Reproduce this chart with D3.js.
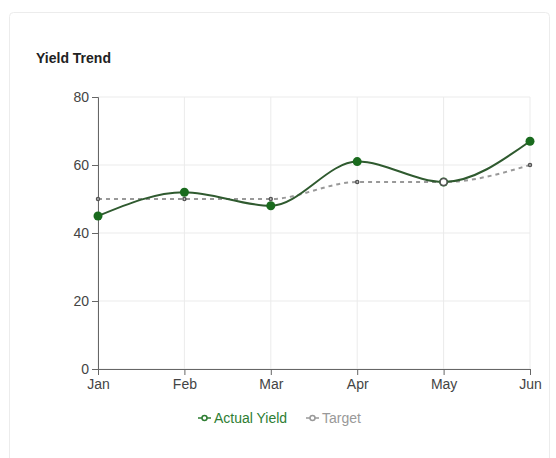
<!DOCTYPE html>
<meta charset="utf-8">
<script src="https://d3js.org/d3.v7.min.js"></script>
<style>
  body { margin: 0; background: #fff; font-family: "Liberation Sans", Arial, sans-serif; }
</style>
<svg width="556" height="458"></svg>
<script>
// chart data
var months = ["Jan", "Feb", "Mar", "Apr", "May", "Jun"];
var actualYield = [45, 52, 48, 61, 55, 67];
var target = [50, 50, 50, 55, 55, 60];
var yTicks = [0, 20, 40, 60, 80];

var svg = d3.select("svg");

// card background
svg.append("rect")
    .attr("x", 9.5).attr("y", 12.5)
    .attr("width", 540).attr("height", 470)
    .attr("rx", 4)
    .attr("fill", "#fff")
    .attr("stroke", "#ececec");

svg.append("text")
    .attr("x", 36).attr("y", 63)
    .attr("font-size", 14).attr("font-weight", "bold")
    .attr("fill", "#222")
    .text("Yield Trend");

var margin = { top: 97, left: 98 },
    width = 432, height = 272;

var g = svg.append("g").attr("transform", "translate(" + margin.left + "," + margin.top + ")");

var x = d3.scalePoint().domain(months).range([0, width]);
var y = d3.scaleLinear().domain([0, 80]).range([height, 0]);

// grid
g.append("g").selectAll("line").data(yTicks).enter().append("line")
    .attr("x1", 0).attr("x2", width)
    .attr("y1", function (d) { return y(d); }).attr("y2", function (d) { return y(d); })
    .attr("stroke", "#ebebeb");
g.append("g").selectAll("line").data(months).enter().append("line")
    .attr("x1", function (d) { return x(d); }).attr("x2", function (d) { return x(d); })
    .attr("y1", 0).attr("y2", height)
    .attr("stroke", "#ebebeb");

// axes
var xAxis = g.append("g")
    .attr("transform", "translate(0," + height + ")")
    .call(d3.axisBottom(x).tickSizeOuter(0));
var yAxis = g.append("g")
    .call(d3.axisLeft(y).tickValues(yTicks));

[xAxis, yAxis].forEach(function (a) {
    a.selectAll("path, line").attr("stroke", "#666");
    a.selectAll("text").attr("fill", "#444").attr("font-size", 14)
        .attr("font-family", "Liberation Sans, Arial, sans-serif");
});
xAxis.selectAll("text").attr("dy", "0.8em");

var line = d3.line().curve(d3.curveMonotoneX);

// target line
g.append("path")
    .datum(target.map(function (d, i) { return [x(months[i]), y(d)]; }))
    .attr("d", line)
    .attr("fill", "none")
    .attr("stroke", "#999")
    .attr("stroke-width", 2)
    .attr("stroke-dasharray", "4 4");

// actual line
g.append("path")
    .datum(actualYield.map(function (d, i) { return [x(months[i]), y(d)]; }))
    .attr("d", line)
    .attr("fill", "none")
    .attr("stroke", "#2f5a2f")
    .attr("stroke-width", 2);

g.selectAll(".dot-a").data(actualYield).enter().append("circle")
    .attr("cx", function (d, i) { return x(months[i]); })
    .attr("cy", function (d) { return y(d); })
    .attr("r", 4.5)
    .attr("fill", "#1a6b1e");

g.selectAll(".dot-t").data(target).enter().append("circle")
    .attr("cx", function (d, i) { return x(months[i]); })
    .attr("cy", function (d) { return y(d); })
    .attr("r", function (d, i) { return d === actualYield[i] ? 3.5 : 1.5; })
    .attr("fill", "#fff")
    .attr("stroke", "#555")
    .attr("stroke-width", 1.5);

// legend
var legendItems = [
    { name: "Actual Yield", color: "#2e7d32", x: 198 },
    { name: "Target", color: "#999", x: 306 }
];
var legend = svg.append("g").selectAll("g").data(legendItems).enter().append("g")
    .attr("transform", function (d) { return "translate(" + d.x + ",418)"; });
legend.append("line")
    .attr("x1", 0).attr("x2", 13)
    .attr("stroke", function (d) { return d.color; })
    .attr("stroke-width", 1.5);
legend.append("circle")
    .attr("cx", 6.5).attr("r", 2.5)
    .attr("fill", "#fff")
    .attr("stroke", function (d) { return d.color; })
    .attr("stroke-width", 1.5);
legend.append("text")
    .attr("x", 16).attr("dy", "0.35em")
    .attr("font-size", 14)
    .attr("fill", function (d) { return d.color; })
    .text(function (d) { return d.name; });
</script>
